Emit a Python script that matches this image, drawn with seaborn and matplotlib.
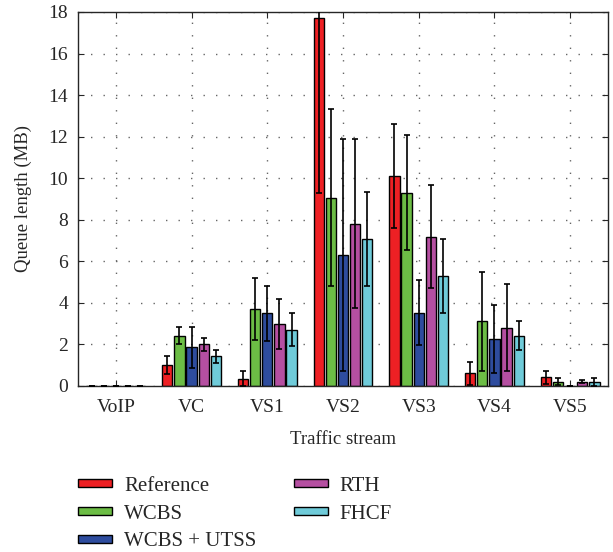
import matplotlib
matplotlib.use("Agg")
import matplotlib.pyplot as plt
import seaborn as sns
import pandas as pd
import numpy as np

categories = ["VoIP", "VC", "VS1", "VS2", "VS3", "VS4", "VS5"]
series = ["Reference", "WCBS", "WCBS + UTSS", "RTH", "FHCF"]
ref_vals = [0.02, 1.01, 0.36, 17.69, 10.11, 0.61, 0.43]
ref_err = [0.0, 0.45, 0.35, 8.42, 2.52, 0.56, 0.31]
wcbs_vals = [0.02, 2.41, 3.70, 9.06, 9.30, 3.11, 0.21]
wcbs_err = [0.0, 0.41, 1.50, 4.26, 2.77, 2.40, 0.18]
utss_vals = [0.02, 1.86, 3.50, 6.30, 3.53, 2.26, 0.02]
utss_err = [0.0, 1.00, 1.33, 5.60, 1.58, 1.64, 0.0]
rth_vals = [0.02, 2.00, 2.98, 7.82, 7.18, 2.81, 0.21]
rth_err = [0.0, 0.31, 1.20, 4.05, 2.48, 2.09, 0.08]
fhcf_vals = [0.02, 1.43, 2.71, 7.07, 5.28, 2.42, 0.21]
fhcf_err = [0.0, 0.31, 0.80, 2.25, 1.78, 0.70, 0.19]
colors = ["#ee2024", "#6cbd45", "#2e4c9e", "#b54fa1", "#6fcbd9"]

vals = [ref_vals, wcbs_vals, utss_vals, rth_vals, fhcf_vals]
errs = [ref_err, wcbs_err, utss_err, rth_err, fhcf_err]

rows = []
for s, v, e in zip(series, vals, errs):
    for c, vi, ei in zip(categories, v, e):
        rows.append({"stream": c, "method": s, "value": vi, "err": ei})
df = pd.DataFrame(rows)

sns.set_style("ticks")
plt.rcParams["font.family"] = ["Liberation Serif", "DejaVu Serif"]

fig = plt.figure(figsize=(6.13, 5.52), dpi=100)
ax = fig.add_axes([78/613, 1 - 386/552, 530/613, 374/552])

sns.barplot(data=df, x="stream", y="value", hue="method", order=categories,
            hue_order=series, palette=colors, errorbar=None, gap=0.15,
            edgecolor="black", linewidth=1.0, ax=ax, legend=True, saturation=1)

# error bars at bar centers
for i, s in enumerate(series):
    cont = ax.containers[i]
    xs = [p.get_x() + p.get_width() / 2 for p in cont.patches]
    hs = [p.get_height() for p in cont.patches]
    e = errs[i]
    ax.errorbar(xs, hs, yerr=e, fmt="none", ecolor="black", elinewidth=1.2,
                capsize=2.2, capthick=1.2, zorder=5, clip_on=True)

ax.set_xlim(-0.5, 6.5)
ax.set_ylim(0, 18)
ax.set_yticks(np.arange(0, 19, 2))
ax.grid(True, linestyle=(0, (1, 8)), color="#666666", linewidth=1.0)
ax.set_axisbelow(True)
ax.tick_params(direction="in", top=True, right=True, labelsize=14, length=4)
ax.tick_params(axis="y", pad=7)
ax.tick_params(axis="x", pad=9)
for sp in ax.spines.values():
    sp.set_linewidth(1.0)
ax.set_xlabel("Traffic stream", fontsize=13.5, labelpad=11)
ax.set_ylabel("Queue length (MB)", fontsize=13.5, labelpad=12)

handles, labels = ax.get_legend_handles_labels()
ax.legend(handles, labels, ncol=2, loc="upper left", bbox_to_anchor=(0.0, -0.243),
          frameon=False, fontsize=15, handlelength=1.63, handleheight=0.22,
          columnspacing=1.8, labelspacing=0.42, handletextpad=0.58,
          borderpad=0, borderaxespad=0)

fig.savefig("out.png", dpi=100)
